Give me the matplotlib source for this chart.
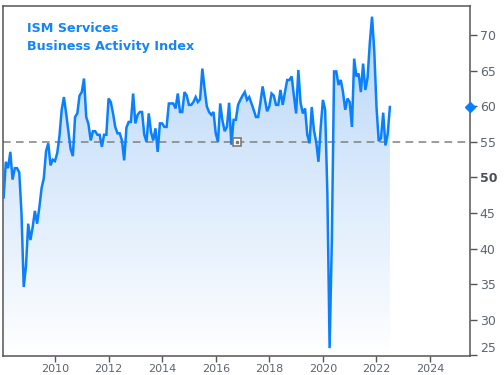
import matplotlib.pyplot as plt
import numpy as np
from matplotlib.colors import LinearSegmentedColormap

# ISM Services, indice de atividade, mensal de fev/2008 a jul/2022
v2008 = [47.2, 52.2, 51.3, 53.6, 49.7, 51.3, 51.3, 50.7, 45.0, 34.6, 37.5]
v2009 = [43.5, 41.2, 43.0, 45.3, 43.5, 45.8, 48.5, 49.9, 53.7, 54.8, 51.7, 52.5]
v2010 = [52.3, 53.4, 55.8, 59.5, 61.3, 59.0, 56.5, 54.0, 53.0, 58.5, 59.0, 61.5]
v2011 = [62.0, 63.9, 58.5, 57.5, 55.2, 56.5, 56.5, 56.0, 56.0, 54.3, 56.0, 56.0]
v2012 = [61.1, 60.6, 59.0, 57.1, 56.2, 56.2, 55.2, 52.4, 57.0, 57.8, 57.8, 61.8]
v2013 = [57.6, 58.8, 59.2, 59.2, 56.0, 55.0, 59.0, 56.4, 55.2, 56.9, 53.6, 57.6]
v2014 = [57.6, 57.1, 57.1, 60.4, 60.4, 60.4, 59.7, 61.8, 59.2, 59.2, 62.0, 61.5]
v2015 = [60.2, 60.2, 60.6, 61.3, 60.6, 61.0, 65.3, 62.5, 60.0, 59.2, 58.8, 59.2]
v2016 = [56.2, 55.0, 60.4, 58.0, 56.5, 57.1, 60.5, 54.6, 58.1, 58.1, 60.2, 60.9]
v2017 = [61.5, 62.0, 60.9, 61.3, 60.4, 59.5, 58.5, 58.5, 60.5, 62.8, 61.0, 59.3]
v2018 = [60.0, 61.8, 61.5, 60.2, 60.2, 62.3, 60.2, 62.0, 63.7, 63.7, 64.2, 61.5]
v2019 = [59.0, 65.1, 60.5, 59.0, 59.7, 56.0, 54.8, 59.9, 56.6, 55.0, 52.2, 57.0]
v2020 = [60.9, 59.5, 47.8, 26.0, 41.1, 64.9, 64.9, 63.0, 63.7, 62.0, 59.5, 61.1]
v2021 = [60.6, 57.1, 66.7, 64.2, 64.6, 62.0, 66.0, 62.3, 64.0, 68.9, 72.6, 67.8]
v2022 = [59.9, 55.1, 55.5, 59.1, 54.5, 56.1, 59.9]

valores = np.array(v2008 + v2009 + v2010 + v2011 + v2012 + v2013 + v2014 + v2015
                   + v2016 + v2017 + v2018 + v2019 + v2020 + v2021 + v2022)
anos = 2008 + (np.arange(len(valores)) + 1) / 12

anos_ticks = [2010, 2012, 2014, 2016, 2018, 2020, 2022, 2024]
valores_ticks = [25, 30, 35, 40, 45, 50, 55, 60, 65, 70]
linha_ref = 55
marca_x = 2016.79

azul = '#0a80ff'
cinza_txt = '#5c6470'
x0, x1 = 2008.06, 2025.49
y0, y1 = 24.9, 74.1

fig = plt.figure(figsize=(5.04, 3.75), dpi=100)
ax = fig.add_axes([3/504, 1 - 356/375, 467/504, 350/375])

# preenchimento em degrade por baixo da linha
area = ax.fill_between(anos, valores, y0, color='none', linewidth=0)
degrade = LinearSegmentedColormap.from_list('deg', ['#ffffff', '#b5d5f8'])
im = ax.imshow(np.linspace(0, 1, 256).reshape(-1, 1), extent=[x0, x1, y0, y1],
               origin='lower', aspect='auto', cmap=degrade, zorder=1)
im.set_clip_path(area.get_paths()[0], transform=ax.transData)

ax.axhline(linha_ref, color='#808080', lw=1.1, dashes=(5, 3.5), zorder=2)
ax.plot(anos, valores, color=azul, lw=1.8, zorder=3, solid_joinstyle='miter')

ax.plot([marca_x], [linha_ref], marker='s', ms=6, mfc='white', mec='#7a7a7a', mew=1.2, zorder=4)
ax.plot([marca_x], [linha_ref], marker='s', ms=2, mfc='#7a7a7a', mec='#7a7a7a', zorder=5)
ax.plot([1], [valores[-1]], marker='D', ms=5, color=azul, transform=ax.get_yaxis_transform(),
        clip_on=False, zorder=6)

ax.set_xlim(x0, x1)
ax.set_ylim(y0, y1)
ax.set_xticks(anos_ticks)
ax.set_xticklabels([str(a) for a in anos_ticks])
ax.set_yticks(valores_ticks)
ax.set_yticklabels([str(v) for v in valores_ticks])
ax.yaxis.tick_right()
ax.tick_params(axis='x', length=4, width=1, color='#555555', labelsize=8, labelcolor=cinza_txt, pad=1.5)
ax.tick_params(axis='y', length=5, width=1, color='#555555', labelsize=9, labelcolor=cinza_txt, pad=2)
for s in ax.spines.values():
    s.set_color('#555555')
    s.set_linewidth(1.1)

labels = ax.get_yticklabels()
labels[0].set_va('bottom')
labels[5].set_fontweight('bold')
labels[5].set_color('#4a4f57')

fig.text(26.7/504, 1 - 32.3/375, 'ISM Services', color='#1585f5', fontsize=9.2,
         fontweight='bold', va='baseline', ha='left')
fig.text(26.7/504, 1 - 50.3/375, 'Business Activity Index', color='#1585f5', fontsize=9.2,
         fontweight='bold', va='baseline', ha='left')

plt.savefig('out.png', dpi=100)
